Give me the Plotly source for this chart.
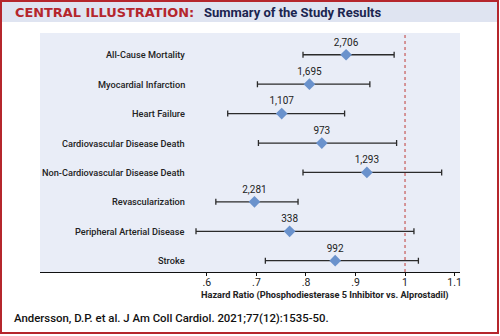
import plotly.graph_objects as go

categories = ["All-Cause Mortality", "Myocardial Infarction", "Heart Failure",
              "Cardiovascular Disease Death", "Non-Cardiovascular Disease Death",
              "Revascularization", "Peripheral Arterial Disease", "Stroke"]
hr = [0.881, 0.807, 0.751, 0.832, 0.923, 0.696, 0.767, 0.859]
ci_low = [0.794, 0.702, 0.642, 0.704, 0.794, 0.618, 0.578, 0.718]
ci_high = [0.978, 0.929, 0.878, 0.983, 1.074, 0.784, 1.018, 1.027]
events = ["2,706", "1,695", "1,107", "973", "1,293", "2,281", "338", "992"]
tick_vals = [0.6, 0.7, 0.8, 0.9, 1.0, 1.1]
tick_text = [".6", ".7", ".8", ".9", "1", "1.1"]

W, H = 500, 336
L, R, T, B = 40, 460, 33, 272
FONT = "Roboto"


def px(x):
    return (x - L) / (R - L)


def py(y):
    return (B - y) / (B - T)


n = len(categories)
ypos = [n - i for i in range(n)]

fig = go.Figure()
fig.add_trace(go.Scatter(
    x=hr, y=ypos, mode="markers+text",
    marker=dict(symbol="diamond", size=9, color="#6a92cc"),
    error_x=dict(type="data", symmetric=False,
                 array=[h - v for h, v in zip(ci_high, hr)],
                 arrayminus=[v - l for v, l in zip(hr, ci_low)],
                 color="#2b2b2b", thickness=1.3, width=3),
    text=events, textposition="top center",
    textfont=dict(family=FONT, size=10, color="#222222"),
    cliponaxis=False, hoverinfo="skip", showlegend=False,
))

annotations = []
for c, y in zip(categories, ypos):
    annotations.append(dict(x=0.559, y=y, xref="x", yref="y", text=c,
                            showarrow=False, xanchor="right", yanchor="middle",
                            font=dict(family=FONT, size=9.2, color="#222222", weight=500)))

annotations.append(dict(x=px(13), y=py(12), xref="paper", yref="paper",
                        text="<b><span style='color:#b5262c'>CENTRAL ILLUSTRATION:</span></b>",
                        showarrow=False, xanchor="left", yanchor="middle",
                        font=dict(family="DejaVu Sans", size=12.9)))
annotations.append(dict(x=px(202), y=py(12), xref="paper", yref="paper",
                        text="<b>Summary of the Study Results</b>",
                        showarrow=False, xanchor="left", yanchor="middle",
                        font=dict(family=FONT, size=13, color="#1b2550")))
annotations.append(dict(x=px(325), y=py(295), xref="paper", yref="paper",
                        text="<b>Hazard Ratio (Phosphodiesterase 5 Inhibitor vs. Alprostadil)</b>",
                        showarrow=False, xanchor="center", yanchor="middle",
                        font=dict(family=FONT, size=9.2, color="#222222")))
annotations.append(dict(x=px(12), y=py(318), xref="paper", yref="paper",
                        text="Andersson, D.P. et al. J Am Coll Cardiol. 2021;77(12):1535-50.",
                        showarrow=False, xanchor="left", yanchor="middle",
                        font=dict(family=FONT, size=11.4, color="#111111", weight=500)))

shapes = [
    dict(type="rect", xref="paper", yref="paper", x0=px(2), x1=px(497), y0=py(2), y1=py(22),
         fillcolor="#dfe4f1", line=dict(width=0), layer="below"),
    dict(type="rect", xref="paper", yref="paper", x0=px(1), x1=px(498), y0=py(1), y1=py(333),
         fillcolor="rgba(0,0,0,0)", line=dict(color="#b5262c", width=2)),
    dict(type="line", xref="x", yref="paper", x0=1, x1=1, y0=0, y1=1,
         line=dict(color="#c65a58", width=1.2, dash="dot")),
]

fig.update_layout(
    width=W, height=H,
    margin=dict(l=L, r=W - R, t=T, b=H - B),
    paper_bgcolor="white", plot_bgcolor="#e9edf7",
    xaxis=dict(range=[0.263, 1.111], tickvals=tick_vals, ticktext=tick_text,
               showgrid=False, zeroline=False, showline=True, linecolor="#111111",
               linewidth=1, ticks="outside", ticklen=3, tickcolor="#111111",
               ticklabelstandoff=-3,
               tickfont=dict(family=FONT, size=10.5, color="#222222"), fixedrange=True),
    yaxis=dict(range=[0.616, 8.74], visible=False, fixedrange=True),
    annotations=annotations, shapes=shapes,
)

fig.write_html("out.html")
